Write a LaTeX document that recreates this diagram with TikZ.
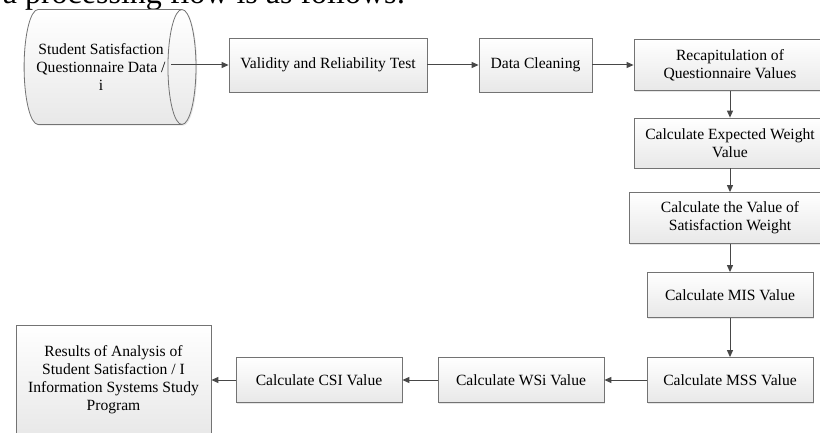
\documentclass[tikz,border=0pt]{standalone}
\usepackage{fontspec}
\setmainfont{Liberation Serif}
\usetikzlibrary{shapes.geometric, arrows.meta, shadows}

\begin{document}
\begin{tikzpicture}[x=1pt, y=-1pt,
  proc/.style={draw=black!55, line width=0.8pt, top color=white, bottom color=black!9,
    drop shadow={opacity=0.2, shadow xshift=1.2pt, shadow yshift=-1.2pt},
    align=center, font=\fontsize{15.6}{18}\selectfont, inner sep=2pt},
  flow/.style={draw=black!72, line width=1pt, -{Triangle[length=7pt, width=6pt]}}]
\useasboundingbox (0,0) rectangle (820,433);
\clip (0,0) rectangle (820,433);
\node[anchor=base east, font=\fontsize{32}{38}\selectfont] (intro) at (409,4) {a processing flow is as follows:};
\node[proc, shape=cylinder, aspect=0.55, minimum height=163, minimum width=115] (data) at (101,67) {Student Satisfaction\\Questionnaire Data /\\i};
\node[proc, minimum width=198, minimum height=54] (valid) at (328,65) {Validity and Reliability Test};
\node[proc, minimum width=113, minimum height=54] (clean) at (535.5,65) {Data Cleaning};
\node[proc, minimum width=192, minimum height=51] (recap) at (730,65) {Recapitulation of\\Questionnaire Values};
\node[proc, minimum width=192, minimum height=50] (expw) at (730,143) {Calculate Expected Weight\\Value};
\node[proc, minimum width=202, minimum height=51] (satw) at (730,218) {Calculate the Value of\\Satisfaction Weight};
\node[proc, minimum width=166, minimum height=45] (mis) at (730,295) {Calculate MIS Value};
\node[proc, minimum width=166, minimum height=45] (mss) at (730,380) {Calculate MSS Value};
\node[proc, minimum width=166, minimum height=45] (wsi) at (521,380) {Calculate WSi Value};
\node[proc, minimum width=166, minimum height=45] (csi) at (319,380) {Calculate CSI Value};
\node[proc, minimum width=195, minimum height=110] (res) at (113.5,380) {Results of Analysis of\\Student Satisfaction / I\\Information Systems Study\\Program};
\draw[flow, shorten <=-25pt] (data.east |- valid.west) -- (valid.west);
\draw[flow] (valid) -- (clean);
\draw[flow] (clean) -- (recap);
\draw[flow] (recap) -- (expw);
\draw[flow] (expw) -- (satw);
\draw[flow] (satw) -- (mis);
\draw[flow] (mis) -- (mss);
\draw[flow] (mss) -- (wsi);
\draw[flow] (wsi) -- (csi);
\draw[flow] (csi) -- (res);
\end{tikzpicture}
\end{document}
